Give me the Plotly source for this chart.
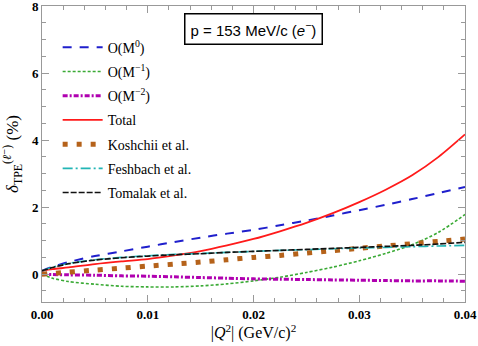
import plotly.graph_objects as go

# |Q^2| grid (GeV/c)^2
q2 = [0, 0.001, 0.0025, 0.005, 0.0075, 0.01, 0.0125, 0.015, 0.0175, 0.02,
      0.0225, 0.025, 0.0275, 0.03, 0.0325, 0.035, 0.0375, 0.04]

# delta_TPE (%)
o_m0 = [0.1, 0.22, 0.36, 0.54, 0.68, 0.82, 0.96, 1.09, 1.21, 1.32,
        1.46, 1.6, 1.75, 1.91, 2.07, 2.24, 2.42, 2.6]
o_m1 = [0.0, -0.12, -0.22, -0.3, -0.36, -0.38, -0.38, -0.35, -0.29, -0.2,
        -0.09, 0.05, 0.21, 0.4, 0.62, 0.88, 1.25, 1.78]
o_m2 = [0.0, -0.01, -0.02, -0.03, -0.05, -0.06, -0.08, -0.1, -0.12, -0.14,
        -0.15, -0.16, -0.17, -0.18, -0.19, -0.2, -0.2, -0.21]
total = [0.1, 0.15, 0.2, 0.3, 0.38, 0.45, 0.56, 0.69, 0.86, 1.05,
         1.28, 1.53, 1.82, 2.15, 2.52, 2.95, 3.5, 4.17]
koshchii = [0.0, 0.02, 0.06, 0.12, 0.18, 0.24, 0.3, 0.36, 0.43, 0.5,
            0.56, 0.63, 0.7, 0.77, 0.84, 0.91, 0.98, 1.05]
feshbach = [0.1, 0.21, 0.32, 0.43, 0.5, 0.55, 0.59, 0.62, 0.65, 0.68,
            0.71, 0.73, 0.76, 0.78, 0.8, 0.82, 0.84, 0.86]
tomalak = [0.1, 0.2, 0.31, 0.42, 0.49, 0.54, 0.58, 0.61, 0.65, 0.68,
           0.71, 0.74, 0.77, 0.8, 0.83, 0.86, 0.9, 0.95]

series = [
    ("O(M<sup>0</sup>)", o_m0, "#1f1fcc", 2, "9px,8px"),
    ("O(M<sup>\u22121</sup>)", o_m1, "#3aaa35", 1.6, "3px,2px"),
    ("O(M<sup>\u22122</sup>)", o_m2, "#b000b0", 3, "5px,2px,2px,2px"),
    ("Total", total, "#ff1a1a", 1.8, "solid"),
    ("Koshchii et al.", koshchii, "#b5621a", 5, "5px,9px"),
    ("Feshbach et al.", feshbach, "#22b5b5", 1.6, "10px,3px,2px,3px"),
    ("Tomalak et al.", tomalak, "#111111", 1.6, "6px,2px"),
]

SERIF = "Liberation Serif, DejaVu Serif, Times New Roman, serif"

fig = go.Figure()
for i, (name, ys, color, width, dash) in enumerate(series):
    fig.add_trace(go.Scatter(
        x=q2, y=ys, name=name, mode="lines", legendgroup=str(i),
        line=dict(color=color, width=width, dash=dash, shape="spline", smoothing=0.8),
    ))

axis_common = dict(
    showgrid=False, zeroline=False, showline=True, mirror="ticks",
    linecolor="#999999", linewidth=1, ticks="inside", ticklen=7,
    tickcolor="#999999", automargin=False, ticklabeloverflow="allow",
    tickfont=dict(family=SERIF, size=13, color="black", weight="bold"),
)

fig.update_xaxes(
    range=[0, 0.04], dtick=0.01, tick0=0, tickformat=".2f",
    minor=dict(dtick=0.002, ticks="inside", ticklen=4, tickcolor="#999999"),
    title=dict(text="|<i>Q</i><sup>2</sup>| (GeV/c)<sup>2</sup>",
               font=dict(family=SERIF, size=16, color="black"), standoff=4),
    **axis_common,
)
fig.update_yaxes(
    range=[-0.83, 8.001], dtick=2, tick0=0,
    minor=dict(dtick=0.5, ticks="inside", ticklen=4, tickcolor="#999999"),
    title=dict(text="<i>\u03b4</i><sub>TPE</sub><sup>(<i>\u2113</i>\u207b)</sup> (%)",
               font=dict(family=SERIF, size=17, color="black"), standoff=14),
    **axis_common,
)

fig.add_annotation(
    xref="paper", yref="paper", x=0.501, y=0.922,
    xanchor="center", yanchor="middle",
    text="p = 153 MeV/c (<i>e</i><sup>\u2212</sup>)", showarrow=False,
    font=dict(family="Liberation Sans, Arial, sans-serif", size=15, color="black"),
    bordercolor="black", borderwidth=1.5, borderpad=5, bgcolor="white",
)

fig.update_layout(
    width=478, height=346,
    margin=dict(l=42, r=13, t=6, b=44),
    plot_bgcolor="white", paper_bgcolor="white",
    legend=dict(
        x=0.037, y=0.913, xanchor="left", yanchor="top",
        bgcolor="rgba(0,0,0,0)", borderwidth=0,
        font=dict(family=SERIF, size=14, color="black"),
        tracegroupgap=3, itemwidth=40,
    ),
)

fig.write_html("out.html", config={"displayModeBar": False},
               post_script="document.body.style.margin='0';")
